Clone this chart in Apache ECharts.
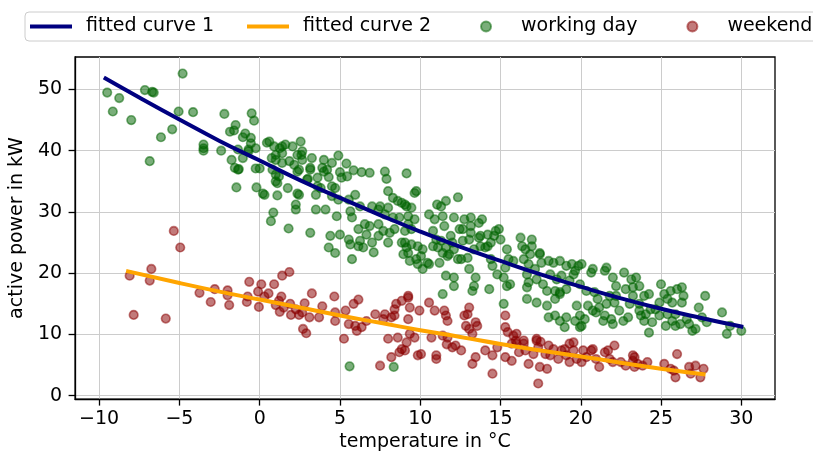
<!DOCTYPE html>
<html>
<head>
<meta charset="utf-8">
<title>Active power vs. temperature</title>
<script src="https://cdn.jsdelivr.net/npm/echarts@6/dist/echarts.min.js"></script>
<style>
  html, body { margin: 0; padding: 0; background: #ffffff; }
  #chart { width: 813px; height: 457px; }
</style>
</head>
<body>
<div id="chart"></div>
<script>
// Tick positions shown on each axis
const xTicks = [-10, -5, 0, 5, 10, 15, 20, 25, 30];
const yTicks = [0, 10, 20, 30, 40, 50];

// Fitted curves: [temperature °C, active power kW]
const curve1 = [
  [-9.6, 51.8], [-7.5, 48.7], [-5, 45.1], [-2.5, 41.6], [0, 38.4], [2.5, 35.2],
  [5, 32.3], [7.5, 29.5], [10, 26.8], [12.5, 24.3], [15, 22.0], [17.5, 19.8],
  [20, 17.8], [22.5, 15.9], [25, 14.2], [27.5, 12.7], [30, 11.3]
];
const curve2 = [
  [-8.2, 20.3], [-5, 18.4], [-2.5, 17.0], [0, 15.7], [2.5, 14.4], [5, 13.1],
  [7.5, 11.9], [10, 10.7], [12.5, 9.6], [15, 8.45], [17.5, 7.4], [20, 6.4],
  [22.5, 5.4], [25, 4.4], [27.65, 3.5]
];

// Measurements on working days: [temperature °C, active power kW]
const workingDay = [
  [-9.5,49.5],[-8.75,48.6],[-9.15,46.4],[-8.0,45.0],[-7.15,49.9],[-6.7,49.6],[-6.6,49.5],[-6.85,38.3],
  [-6.15,42.2],[-5.45,43.5],[-5.05,46.4],[-4.8,52.6],[-4.15,46.3],[-3.5,41.0],[-3.5,40.4],[-3.5,40.0],
  [-2.4,40.0],[-2.2,46.0],[-1.75,38.5],[-1.5,44.2],[-1.55,37.2],[-1.3,37.0],[-1.45,34.0],[-1.85,43.1],
  [-1.6,43.3],[-1.05,42.2],[-0.9,42.8],[-0.55,42.1],[-0.5,46.1],[-0.35,44.9],[-0.7,40.2],[-0.25,40.4],
  [-0.25,37.1],[-0.2,34.0],[0.2,33.0],[0.0,37.1],[0.3,32.8],[0.45,41.3],[0.6,41.5],[0.75,38.8],
  [1.0,38.5],[1.1,32.7],[0.85,29.9],[0.7,28.5],[1.1,34.7],[1.25,40.4],[1.4,40.7],[1.75,33.9],
  [1.8,27.3],[2.05,40.7],[2.25,30.4],[2.25,31.2],[2.35,33.0],[2.55,41.5],[2.6,39.3],[3.0,35.4],
  [3.15,37.2],[2.45,36.9],[1.0,36.1],[0.8,36.9],[1.2,35.8],
  [-0.55,41.2],[-1.35,40.2],[-0.7,39.9],[-1.05,38.8],[-1.35,36.9],[0.9,40.7],[1.6,41.0],[1.0,39.3],
  [1.4,39.6],[1.85,38.3],[2.35,39.3],[2.65,39.9],[2.65,38.5],[3.25,38.8],[4.0,38.5],[4.5,38.0],
  [4.9,39.2],[5.4,37.9],[5.85,36.8],[6.35,36.5],[6.85,36.4],[7.8,36.6],[7.9,35.4],[9.15,36.3],
  [3.15,36.9],[3.9,37.2],[4.0,36.6],[4.2,36.9],[3.6,35.6],[4.3,35.7],[5.0,36.5],[5.1,35.6],
  [5.45,35.8],[2.95,35.3],[2.35,36.6],[2.15,37.7],[1.4,38.0],[1.0,35.0],[2.45,32.8],[3.5,32.8],
  [3.6,34.2],[3.8,33.9],[4.5,34.2],[4.7,33.9],[4.5,32.6],[4.9,32.0],[5.55,32.0],[5.95,32.8],
  [6.25,30.9],[3.5,30.4],[4.1,30.4],[4.8,29.3],[5.75,29.1],[5.65,30.1],[3.15,26.6],[4.4,26.1],
  [5.0,26.3],[5.55,25.5],[6.15,27.2],[6.55,28.0],[6.65,26.3],[6.85,27.7],[7.4,28.0],[7.4,26.1],
  [7.7,26.9],[8.0,25.0],[8.1,26.6],[8.4,27.2],[6.15,24.4],[5.65,24.7],[6.25,25.3],[7.0,25.0],
  [8.85,25.0],[9.05,25.0],[7.4,30.4],[8.0,33.4],[8.3,32.3],[8.6,31.8],[8.85,31.5],[9.15,30.9],
  [8.0,30.7],[7.5,30.9],[7.0,30.9],[7.8,29.6],[9.25,29.3],[8.7,29.1],[8.3,29.1],
  [9.65,33.1],[9.75,33.4],[12.35,32.4],[11.3,30.9],[11.6,31.8],[11.4,29.3],[11.5,27.7],[10.55,29.6],
  [10.9,28.8],[12.1,29.1],[12.75,28.8],[13.15,29.1],[13.65,28.2],[13.85,28.8],[13.75,26.1],[14.2,24.4],
  [13.15,27.7],[12.45,27.2],[11.9,26.1],[11.3,25.3],[10.8,24.4],[10.15,23.9],[10.05,22.8],[10.45,21.7],
  [9.35,22.0],[9.85,21.5],[10.15,20.7],[11.2,21.7],[11.7,22.8],[12.1,23.9],[11.6,19.6],[12.1,19.3],
  [13.05,20.7],[13.45,19.3],[13.35,17.9],[12.55,22.3],[13.35,23.9],[9.25,23.3],[7.1,23.4],[6.45,24.2],
  [5.75,22.3],[4.7,23.3],[4.3,24.2],
  [9.05,31.2],[9.45,30.7],[9.65,28.8],[9.25,28.0],[9.45,27.2],[9.05,26.9],[9.45,24.7],[9.15,24.2],
  [9.85,24.4],[8.95,23.1],[9.75,22.3],[10.55,21.5],[11.1,24.2],[11.0,25.5],[11.6,24.2],[11.4,23.3],
  [11.8,23.1],[12.35,22.3],[12.1,17.9],[11.4,16.6],[12.95,22.5],[12.0,25.0],[12.65,25.3],[13.05,25.5],
  [13.65,25.8],[13.75,24.4],[14.05,24.2],[14.4,25.0],[14.6,26.1],[14.9,27.2],[14.7,26.9],[15.0,25.5],
  [14.4,22.3],[14.5,21.2],[14.8,19.8],[14.3,17.4],[15.4,23.9],[15.5,22.3],[15.3,20.9],[15.2,19.3],
  [15.4,17.9],[15.8,22.0],[16.25,25.8],[16.35,24.4],[16.55,23.9],[16.95,24.4],[16.85,23.1],[16.45,22.3],
  [16.75,21.5],[17.15,20.7],[16.65,19.8],[17.45,23.1],[17.55,21.7],[18.0,22.0],[18.3,21.7],[18.7,22.0],
  [19.1,21.2],[19.45,21.5],[19.85,21.2],[18.1,19.8],[18.5,19.0],[18.8,19.6],[17.65,18.2],[17.9,17.1],
  [18.4,17.1],[18.7,16.6],[16.65,17.7],[15.6,18.2],[19.55,19.8],[16.95,25.5],[10.8,26.9],[11.05,31.2],
  [13.15,26.6],[12.65,27.2],[14.2,26.3],
  [17.45,23.3],[19.65,20.4],[20.05,21.5],[20.75,20.7],[20.65,20.1],[21.6,20.9],[21.5,20.4],[22.0,19.3],
  [22.7,20.1],[23.15,19.0],[23.45,19.3],[23.65,17.9],[23.25,17.7],[24.25,16.6],[25.0,18.2],[25.2,16.6],
  [25.6,17.1],[26.0,17.4],[26.3,17.7],[26.4,16.3],[26.3,15.2],[25.7,15.2],[25.4,15.8],[24.9,15.2],
  [24.65,14.1],[25.4,13.3],[24.9,13.1],[25.7,12.2],[26.2,11.7],[25.9,11.4],[26.95,10.6],[27.35,14.4],
  [27.55,12.8],[27.75,16.3],[27.85,12.0],[28.8,13.6],[29.1,10.1],[29.3,11.4],[30.0,10.6],[24.25,10.3],
  [23.95,12.2],[24.05,13.3],[23.75,13.1],[24.45,12.0],[25.3,11.4],[22.95,12.8],[22.65,12.2],[22.4,13.9],
  [22.1,15.2],[22.2,16.3],[21.9,12.5],[22.0,11.7],[21.4,12.2],[21.15,14.4],[20.75,13.9],[20.45,14.7],
  [20.25,12.5],[19.95,13.1],[19.65,12.2],[20.05,11.4],[19.1,12.8],[18.7,12.2],[18.4,13.1],[18.0,12.8],
  [19.0,11.2],[17.9,14.7],[18.4,15.8],[18.7,16.9],[19.1,17.4],[17.25,15.2],[16.65,15.8],[16.75,18.5],
  [17.25,19.0],[15.2,15.0],[19.75,14.7],[20.95,13.6],[21.5,13.1],[21.6,15.0],[23.25,16.3],[23.05,15.0],
  [23.65,15.0],[23.95,16.3],[22.8,17.4],[22.2,17.9],[21.8,16.3],[21.05,15.8],[20.85,16.9],[20.35,17.1],
  [19.95,18.2],[19.3,18.8],[24.35,14.1],[26.6,12.5],[26.75,11.7],[27.15,10.9],[25.9,13.3],
  [23.65,13.9],[19.95,11.2],[5.6,4.8],[8.35,4.7],[13.25,17.1]
];

// Measurements on weekends: [temperature °C, active power kW]
const weekend = [
  [-5.35,26.9],[-4.95,24.2],[-8.1,19.6],[-6.75,20.7],[-6.85,18.8],[-7.85,13.2],[-5.85,12.6],[-3.75,16.8],
  [-3.05,15.3],[-2.8,17.4],[-2.0,17.2],[-2.0,16.4],[-1.9,14.8],[-0.65,18.6],[-0.8,15.3],[-0.75,16.2],
  [-0.05,14.5],[-0.1,17.0],[0.1,18.2],[0.3,16.2],[0.55,16.7],[0.9,18.2],[1.35,16.2],[1.2,15.5],
  [1.4,19.6],[1.85,20.2],[1.0,14.8],[1.25,13.7],[1.9,15.0],[1.95,13.2],[2.45,13.2],[2.25,14.1],
  [2.65,13.6],[2.8,15.1],[3.25,16.7],[3.1,12.8],[2.7,10.9],[2.9,10.2],[3.7,12.8],[3.9,14.6],[1.5,14.4],
  [4.65,16.2],[4.7,13.6],[4.7,12.2],[5.25,9.3],[5.55,11.7],[5.35,13.9],[5.85,15.0],[6.15,15.7],
  [5.95,11.4],[6.35,11.2],[6.65,12.2],[7.2,13.3],[7.8,13.3],[7.5,4.9],[8.0,9.3],[8.2,12.8],
  [8.5,15.0],[8.85,15.5],[9.25,16.0],[9.35,14.4],[9.25,12.5],[8.6,9.5],[9.15,8.7],[9.35,10.1],
  [8.85,7.6],[8.7,7.1],[8.2,6.3],[9.05,7.4],[9.85,6.6],[10.05,6.8],[9.65,9.5],[9.95,13.9],
  [10.55,15.2],[10.9,13.9],[10.7,9.5],[11.0,6.6],[11.0,6.0],[11.5,13.9],[11.6,13.1],[11.7,12.2],
  [11.4,9.8],[11.7,9.5],[12.0,7.9],[12.2,8.2],[12.55,7.4],[12.95,13.3],[12.75,13.1],[12.85,11.4],
  [13.05,10.9],[13.25,10.1],[13.45,12.0],[13.55,11.4],[13.25,5.2],[13.45,6.3],[14.05,7.4],[14.5,6.6],
  [14.5,3.6],[14.8,7.9],[15.3,6.3],[15.3,13.1],[15.3,11.2],[15.45,10.4],[15.8,9.8],[16.0,10.1],
  [15.7,8.5],[16.0,8.5],[16.15,7.1],[15.7,5.7],[16.45,8.5],[16.55,7.4],[16.75,5.2],[17.05,6.8],
  [17.25,9.0],[17.35,7.9],[17.45,4.7],[17.9,4.4],[17.35,2.0],[17.8,6.8],[18.1,6.6],[18.3,7.6],
  [18.6,6.0],[18.8,7.4],[19.0,7.6],[19.1,6.6],[19.3,5.5],[19.55,8.7],[19.55,7.4],[19.75,6.0],
  [20.05,5.5],[20.15,7.4],[20.35,6.3],[20.65,7.4],[20.95,6.0],[21.15,4.7],[21.5,7.1],[21.7,7.4],
  [21.8,6.0],[22.1,8.2],[22.0,5.5],[22.5,5.5],[22.8,4.9],[23.25,5.7],[23.35,4.7],[23.55,5.2],
  [23.85,4.9],[24.15,5.5],[23.35,6.3],[25.2,5.2],[25.6,4.4],[25.9,3.0],[26.0,6.8],[26.75,4.7],
  [26.85,3.6],[27.15,4.9],[27.45,3.0],[27.65,4.4],[25.8,4.1],
  [6.05,10.6],[7.7,12.5],[8.4,13.1],[8.4,14.1],[9.25,16.3],[13.05,14.4],[15.95,9.0],[16.45,9.0],
  [17.25,9.3],[17.5,8.8],[18.0,8.2],[19.3,8.5],[20.75,7.6],[23.25,6.6],[11.65,8.4]
];

const FONT = 'DejaVu Sans';
const minus = v => String(v).replace('-', '\u2212');

// Legend handles: a thick bar for the curves, a dot for the measurements.
// Both span the full 42 x 10 handle box so every entry has the same footprint.
const LINE_ICON = 'path://M0,3H42V7H0Z M0,0M42,10';
const DOT_ICON = 'path://M0,0M42,10M16,5a5,5 0 1,0 10,0a5,5 0 1,0 -10,0Z';

const GREEN = 'rgba(0,100,0,0.65)';
const RED = 'rgba(139,0,0,0.65)';

const chart = echarts.init(document.getElementById('chart'), null, { renderer: 'canvas' });

const axisCommon = {
  axisLine: { show: true, onZero: false, lineStyle: { color: '#000', width: 1.3 } },
  axisTick: { show: true, inside: false, length: 6.5, lineStyle: { color: '#000', width: 1.3 } },
  splitLine: { show: true, lineStyle: { color: '#cccccc', width: 1 } },
  nameTextStyle: { fontFamily: FONT, fontSize: 19, color: '#000' }
};

chart.setOption({
  animation: false,
  backgroundColor: '#ffffff',
  textStyle: { fontFamily: FONT },
  grid: {
    left: 71, right: 38, top: 57, bottom: 56.5,
    show: true, borderColor: '#000', borderWidth: 1.3, backgroundColor: 'transparent'
  },
  legend: {
    left: 25, top: 12, width: 1200,
    orient: 'horizontal',
    padding: [5, 5, 5, 5],
    itemWidth: 42, itemHeight: 10, itemGap: 33,
    backgroundColor: 'rgba(255,255,255,0.8)',
    borderColor: '#cccccc', borderWidth: 1, borderRadius: 4,
    textStyle: { fontFamily: FONT, fontSize: 19, color: '#000', padding: [0, 0, 0, 9] },
    data: [
      { name: 'fitted curve 1', icon: LINE_ICON },
      { name: 'fitted curve 2', icon: LINE_ICON },
      { name: 'working day', icon: DOT_ICON },
      { name: 'weekend', icon: DOT_ICON }
    ]
  },
  xAxis: Object.assign({}, axisCommon, {
    type: 'value',
    min: -11.5, max: 32.1,
    splitNumber: 8, minInterval: 5, maxInterval: 5,
    name: 'temperature in °C',
    nameLocation: 'middle', nameGap: 29,
    axisTick: Object.assign({}, axisCommon.axisTick, { customValues: xTicks }),
    axisLabel: {
      customValues: xTicks, margin: 10,
      fontFamily: FONT, fontSize: 19, color: '#000',
      formatter: minus
    }
  }),
  yAxis: Object.assign({}, axisCommon, {
    type: 'value',
    min: -0.55, max: 55.3,
    splitNumber: 5, minInterval: 10, maxInterval: 10,
    name: 'active power in kW',
    nameLocation: 'middle', nameGap: 30, nameRotate: 90,
    axisTick: Object.assign({}, axisCommon.axisTick, { customValues: yTicks }),
    axisLabel: {
      customValues: yTicks, margin: 13,
      fontFamily: FONT, fontSize: 19, color: '#000',
      formatter: minus
    }
  }),
  series: [
    {
      name: 'fitted curve 1', type: 'line', data: curve1,
      color: '#000080', smooth: true, symbol: 'none', z: 4,
      lineStyle: { color: '#000080', width: 4, cap: 'square' }
    },
    {
      name: 'fitted curve 2', type: 'line', data: curve2,
      color: '#ffa500', smooth: true, symbol: 'none', z: 4,
      lineStyle: { color: '#ffa500', width: 4, cap: 'square' }
    },
    {
      name: 'working day', type: 'scatter', data: workingDay,
      color: GREEN, symbol: 'circle', symbolSize: 8.6, z: 2,
      itemStyle: { color: GREEN, borderColor: GREEN, borderWidth: 1.6 }
    },
    {
      name: 'weekend', type: 'scatter', data: weekend,
      color: RED, symbol: 'circle', symbolSize: 8.6, z: 2,
      itemStyle: { color: RED, borderColor: RED, borderWidth: 1.6 }
    }
  ]
});
</script>
</body>
</html>
